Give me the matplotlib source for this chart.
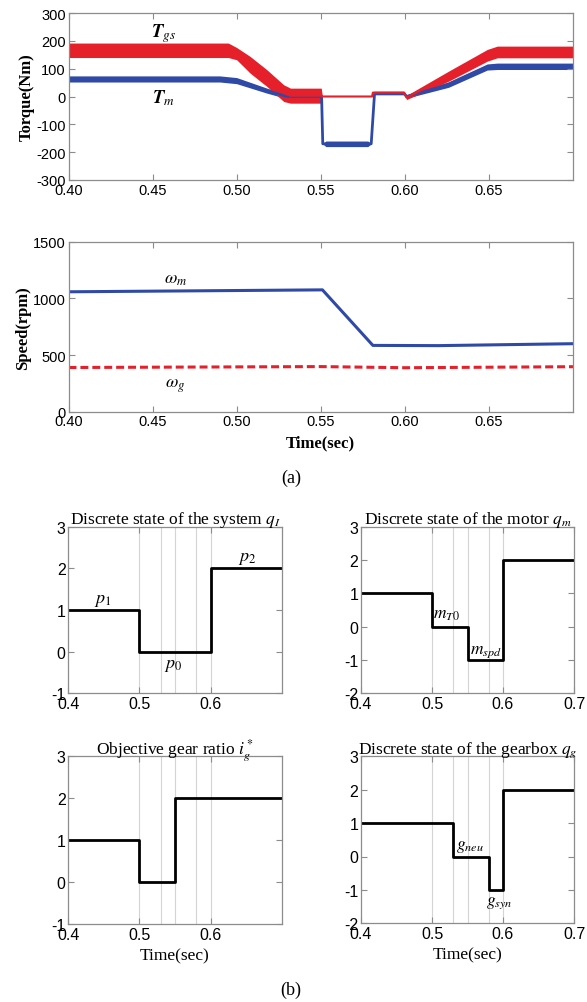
import numpy as np
import matplotlib.pyplot as plt

plt.rcParams['mathtext.fontset'] = 'stix'
plt.rcParams['font.family'] = ['Liberation Serif', 'DejaVu Serif']
plt.rcParams['axes.unicode_minus'] = False

# ---- (a) torque traces, envelopes of the noisy band
t_gs = [0.400, 0.495, 0.500, 0.508, 0.518, 0.528, 0.532, 0.5503, 0.5510, 0.5805, 0.5810, 0.5995, 0.6010, 0.6260, 0.6490, 0.6550, 0.700]
gs_lo = [140, 140, 132, 84, 36, -18, -24, -24, 0, 0, 14, 14, -11, 55, 127, 139, 139]
gs_hi = [192, 192, 176, 144, 96, 42, 30, 30, 0, 0, 14, 14, 4, 91, 169, 181, 181]

t_m = [0.400, 0.490, 0.500, 0.518, 0.530, 0.5505, 0.5512, 0.5530, 0.5780, 0.5800, 0.5820, 0.5995, 0.6010, 0.6260, 0.6490, 0.6550, 0.700]
m_lo = [52, 52, 46, 12, -8, -8, -170, -180, -180, -170, 6, 6, -6, 33, 95, 97, 97]
m_hi = [74, 74, 68, 30, 8, 8, -170, -160, -160, -170, 18, 18, 6, 53, 117, 120, 120]

# ---- (a) speeds
t_spd = [0.400, 0.551, 0.581, 0.620, 0.700]
w_m = [1058, 1075, 585, 583, 600]
t_wg = [0.400, 0.550, 0.600, 0.700]
w_g = [390, 398, 388, 397]

# ---- (b) discrete states (step values between switching instants)
t_qI = [0.4, 0.5, 0.5, 0.6, 0.6, 0.7]
q_I = [1, 1, 0, 0, 2, 2]
t_qm = [0.4, 0.5, 0.5, 0.55, 0.55, 0.6, 0.6, 0.7]
q_m = [1, 1, 0, 0, -1, -1, 2, 2]
t_ig = [0.4, 0.5, 0.5, 0.55, 0.55, 0.7]
i_g = [1, 1, 0, 0, 2, 2]
t_qg = [0.4, 0.53, 0.53, 0.58, 0.58, 0.6, 0.6, 0.7]
q_g = [1, 1, 0, 0, -1, -1, 2, 2]
switch_times = [0.5, 0.53, 0.55, 0.58, 0.6]

RED = '#e5202a'
BLUE = '#2f4aa6'
SPINE = '#8c8c8c'


def style_axes(ax, tick_size):
    for s in ax.spines.values():
        s.set_color(SPINE)
        s.set_linewidth(0.9)
    ax.tick_params(direction='in', top=True, right=True, length=4,
                   color=SPINE, labelsize=tick_size, pad=2)
    for lab in ax.get_xticklabels() + ax.get_yticklabels():
        lab.set_family('Liberation Sans')


fig = plt.figure(figsize=(5.87, 10.03), dpi=100)
W, H = 587.0, 1003.0


def px_axes(l, t, r, b):
    return fig.add_axes([l / W, 1 - b / H, (r - l) / W, (b - t) / H])


# torque
ax1 = px_axes(68.5, 14, 573, 181)
mid_m = (np.array(m_lo) + np.array(m_hi)) / 2
ax1.fill_between(t_m, m_lo, m_hi, color=BLUE, lw=0)
ax1.plot(t_m, mid_m, color=BLUE, lw=2.0)
mid_gs = (np.array(gs_lo) + np.array(gs_hi)) / 2
ax1.fill_between(t_gs, gs_lo, gs_hi, color=RED, lw=0)
ax1.plot(t_gs, mid_gs, color=RED, lw=1.5)
ax1.set_xlim(0.4, 0.7)
ax1.set_ylim(-300, 300)
ax1.set_xticks([0.40, 0.45, 0.50, 0.55, 0.60, 0.65])
ax1.set_xticklabels(['%.2f' % v for v in [0.40, 0.45, 0.50, 0.55, 0.60, 0.65]])
ax1.set_yticks(range(-300, 301, 100))
ax1.set_ylabel('Torque(Nm)', fontsize=12, fontweight='bold', labelpad=1)
style_axes(ax1, 10.5)
ax1.text(0.4564, 231, r'$\mathbfit{T}_{gs}$', fontsize=13.5, ha='center', va='center')
ax1.text(0.4564, -2, r'$\mathbfit{T}_{m}$', fontsize=13.5, ha='center', va='center')

# speed
ax2 = px_axes(68.5, 242.7, 573, 412.7)
ax2.plot(t_spd, w_m, color=BLUE, lw=2.2)
ax2.plot(t_wg, w_g, color=RED, lw=2.2, linestyle=(0, (2.6, 1.3)))
ax2.set_xlim(0.4, 0.7)
ax2.set_ylim(0, 1500)
ax2.set_xticks([0.40, 0.45, 0.50, 0.55, 0.60, 0.65])
ax2.set_xticklabels(['%.2f' % v for v in [0.40, 0.45, 0.50, 0.55, 0.60, 0.65]])
ax2.set_yticks([0, 500, 1000, 1500])
ax2.set_ylabel('Speed(rpm)', fontsize=12, fontweight='bold', labelpad=1)
ax2.set_xlabel('Time(sec)', fontsize=12, fontweight='bold', labelpad=4)
style_axes(ax2, 10.5)
ax2.text(0.4636, 1177, r'$\omega_m$', fontsize=13, ha='center', va='center')
ax2.text(0.4636, 235, r'$\omega_g$', fontsize=13, ha='center', va='center')

fig.text(291 / W, 1 - 478 / H, '(a)', fontsize=13, ha='center', va='center')

# (b) panels
panels = [
    ((68.3, 527.7, 281.7, 694.3), t_qI, q_I, (-1, 3), [0.4, 0.5, 0.6],
     'Discrete state of the system $q_I$', False),
    ((361, 527.7, 574, 694.3), t_qm, q_m, (-2, 3), [0.4, 0.5, 0.6, 0.7],
     'Discrete state of the motor $q_m$', False),
    ((68.3, 757.3, 281.7, 925), t_ig, i_g, (-1, 3), [0.4, 0.5, 0.6],
     'Objective gear ratio $i_g^*$', True),
    ((361, 757.3, 574, 924.3), t_qg, q_g, (-2, 3), [0.4, 0.5, 0.6, 0.7],
     'Discrete state of the gearbox $q_g$', True),
]
axes_b = []
for box, tx, qy, ylim, xt, title, xlab in panels:
    ax = px_axes(*box)
    for ts in switch_times:
        ax.axvline(ts, color='#d4d4d4', lw=0.8, zorder=0)
    ax.plot(tx, qy, color='black', lw=2.0)
    ax.set_xlim(0.4, 0.7)
    ax.set_ylim(*ylim)
    ax.set_xticks(xt)
    ax.set_xticklabels(['%.1f' % v for v in xt])
    ax.set_yticks(range(ylim[0], ylim[1] + 1))
    ax.set_title(title, fontsize=12.5, pad=3)
    if xlab:
        ax.set_xlabel('Time(sec)', fontsize=12.5, labelpad=4)
    style_axes(ax, 11.5)
    axes_b.append(ax)

a, b, c, d = axes_b
a.text(0.449, 1.26, '$p_1$', fontsize=13, ha='center', va='center')
a.text(0.548, -0.30, '$p_0$', fontsize=13, ha='center', va='center')
a.text(0.652, 2.26, '$p_2$', fontsize=13, ha='center', va='center')
b.text(0.502, 0.37, '$m_{T0}$', fontsize=12.5, ha='left', va='center')
b.text(0.554, -0.73, '$m_{spd}$', fontsize=12.5, ha='left', va='center')
d.text(0.534, 0.30, '$g_{neu}$', fontsize=12.5, ha='left', va='center')
d.text(0.5755, -1.35, '$g_{syn}$', fontsize=12.5, ha='left', va='center')

fig.text(291 / W, 1 - 990 / H, '(b)', fontsize=13, ha='center', va='center')

fig.savefig('out.png', dpi=100)
